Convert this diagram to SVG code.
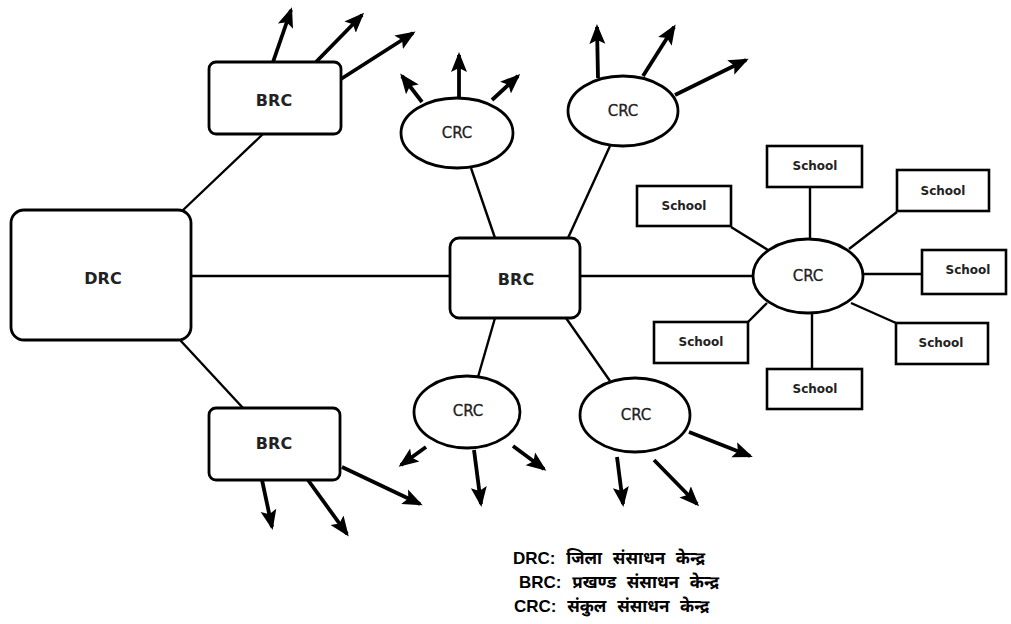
<svg xmlns="http://www.w3.org/2000/svg" width="1011" height="624" viewBox="0 0 1011 624">
<style>
.box{fill:#fff;stroke:#000;stroke-width:2.8}
.ell{fill:#fff;stroke:#000;stroke-width:2.8}
.sch{fill:#fff;stroke:#000;stroke-width:2.6}
.ln{stroke:#000;stroke-width:2.4;fill:none}
.ar{stroke:#000;stroke-width:3.8;fill:none;marker-end:url(#ah)}
.big{font-family:"DejaVu Sans","Liberation Sans",sans-serif;font-weight:bold;font-size:16px;fill:#222;text-anchor:middle}
.crc{font-family:"DejaVu Sans","Liberation Sans",sans-serif;font-size:15px;fill:#222;text-anchor:middle;stroke:#222;stroke-width:0.3}
.sc{font-family:"DejaVu Sans","Liberation Sans",sans-serif;font-weight:bold;font-size:12px;fill:#222;text-anchor:middle}
.leg{font-family:"Liberation Sans","Noto Sans Devanagari","Noto Sans",sans-serif;font-weight:bold;font-size:17px;word-spacing:6px;fill:#000}
</style>
<defs>
<marker id="ah" markerUnits="userSpaceOnUse" markerWidth="20" markerHeight="18" refX="17" refY="9" orient="auto">
<path d="M0,1 L20,9 L0,17 L4,9 z" fill="#000"/>
</marker>
</defs>
<rect width="1011" height="624" fill="#fff"/>
<g id="connectors">
<line class="ln" x1="191" y1="276" x2="450" y2="276"/>
<line class="ln" x1="181" y1="212" x2="263" y2="134"/>
<line class="ln" x1="180" y1="340" x2="243" y2="408"/>
<line class="ln" x1="580" y1="276" x2="753" y2="276"/>
<line class="ln" x1="471" y1="168" x2="495" y2="238"/>
<line class="ln" x1="610" y1="146" x2="568" y2="238"/>
<line class="ln" x1="495" y1="318" x2="478" y2="377"/>
<line class="ln" x1="566" y1="318" x2="610" y2="381"/>
<line class="ln" x1="810" y1="187" x2="810" y2="240"/>
<line class="ln" x1="731" y1="227" x2="768" y2="250"/>
<line class="ln" x1="897" y1="212" x2="849" y2="249"/>
<line class="ln" x1="863" y1="274" x2="922" y2="274"/>
<line class="ln" x1="851" y1="303" x2="896" y2="323"/>
<line class="ln" x1="812" y1="312" x2="812" y2="369"/>
<line class="ln" x1="748" y1="322" x2="767" y2="303"/>
<line class="ar" x1="273" y1="62" x2="291" y2="10"/>
<line class="ar" x1="316" y1="62" x2="362" y2="15"/>
<line class="ar" x1="341" y1="79" x2="413" y2="33"/>
<line class="ar" x1="422" y1="102" x2="402" y2="76"/>
<line class="ar" x1="459" y1="97" x2="459" y2="55"/>
<line class="ar" x1="492" y1="100" x2="518" y2="76"/>
<line class="ar" x1="598" y1="78" x2="597" y2="27"/>
<line class="ar" x1="643" y1="76" x2="674" y2="27"/>
<line class="ar" x1="675" y1="95" x2="746" y2="60"/>
<line class="ar" x1="262" y1="480" x2="272" y2="527"/>
<line class="ar" x1="308" y1="480" x2="347" y2="534"/>
<line class="ar" x1="342" y1="467" x2="420" y2="504"/>
<line class="ar" x1="426" y1="447" x2="401" y2="465"/>
<line class="ar" x1="474" y1="450" x2="481" y2="504"/>
<line class="ar" x1="513" y1="446" x2="544" y2="469"/>
<line class="ar" x1="617" y1="457" x2="623" y2="504"/>
<line class="ar" x1="654" y1="460" x2="697" y2="504"/>
<line class="ar" x1="689" y1="432" x2="750" y2="456"/>
</g>
<g id="drc"><rect class="box" x="11" y="210" width="180" height="130" rx="13"/><text class="big" x="103" y="284">DRC</text></g>
<g id="brc-top"><rect class="box" x="209" y="62" width="132" height="72" rx="7"/><text class="big" x="274" y="106">BRC</text></g>
<g id="brc-bottom"><rect class="box" x="209" y="408" width="131" height="72" rx="7"/><text class="big" x="274" y="449">BRC</text></g>
<g id="brc-center"><rect class="box" x="450" y="238" width="130" height="80" rx="9"/><text class="big" x="516" y="285">BRC</text></g>
<g id="crc-tl"><ellipse class="ell" cx="457" cy="133" rx="56" ry="35"/><text class="crc" x="457" y="138">CRC</text></g>
<g id="crc-tr"><ellipse class="ell" cx="623" cy="111" rx="55" ry="35"/><text class="crc" x="623" y="116">CRC</text></g>
<g id="crc-bl"><ellipse class="ell" cx="467" cy="412" rx="53" ry="36"/><text class="crc" x="468" y="416">CRC</text></g>
<g id="crc-br"><ellipse class="ell" cx="635" cy="415" rx="55" ry="37"/><text class="crc" x="636" y="420">CRC</text></g>
<g id="crc-right"><ellipse class="ell" cx="808" cy="276" rx="55" ry="37"/><text class="crc" x="808" y="281">CRC</text></g>
<g id="school-top"><rect class="sch" x="767" y="146" width="95" height="41"/><text class="sc" x="815" y="170">School</text></g>
<g id="school-tl"><rect class="sch" x="637" y="186" width="94" height="40"/><text class="sc" x="684" y="210">School</text></g>
<g id="school-tr"><rect class="sch" x="897" y="170" width="92" height="41"/><text class="sc" x="943" y="195">School</text></g>
<g id="school-r"><rect class="sch" x="922" y="250" width="84" height="44"/><text class="sc" x="968" y="274">School</text></g>
<g id="school-br"><rect class="sch" x="896" y="323" width="92" height="41"/><text class="sc" x="941" y="347">School</text></g>
<g id="school-b"><rect class="sch" x="767" y="369" width="95" height="40"/><text class="sc" x="815" y="393">School</text></g>
<g id="school-bl"><rect class="sch" x="654" y="322" width="94" height="41"/><text class="sc" x="701" y="346">School</text></g>
<g id="legend">
<text class="leg" x="513" y="564">DRC: जिला संसाधन केन्द्र</text>
<text class="leg" x="519" y="588">BRC: प्रखण्ड संसाधन केन्द्र</text>
<text class="leg" x="514" y="612">CRC: संकुल संसाधन केन्द्र</text>
</g>
</svg>
